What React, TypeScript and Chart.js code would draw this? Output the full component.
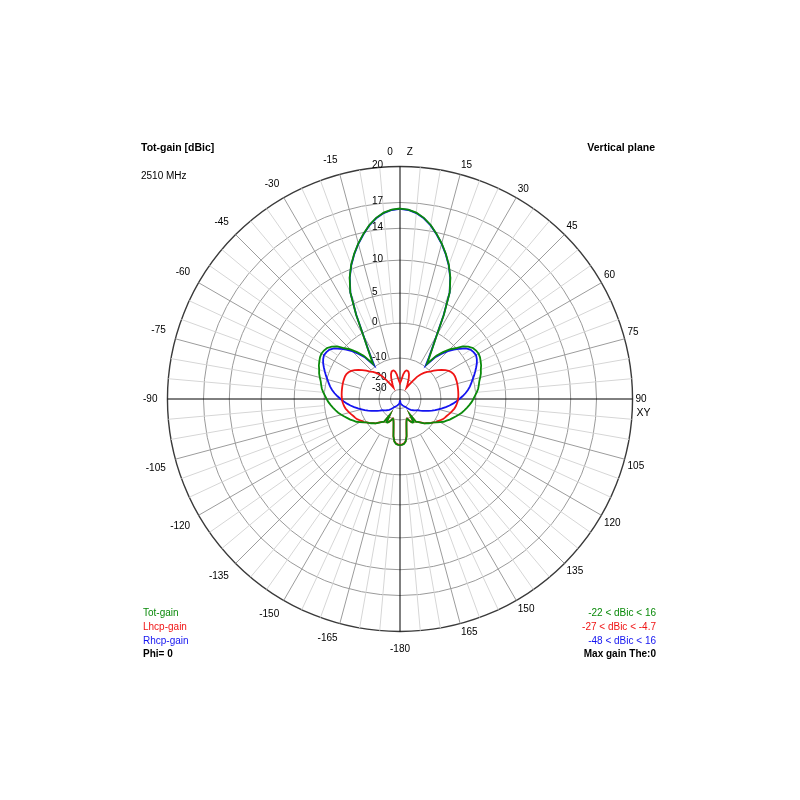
import React, { useEffect, useRef } from 'react';
import { Chart, registerables, RadialLinearScale } from 'chart.js';

const FONT = "'Liberation Sans', Arial, sans-serif";

// ---- data (dBic), angle theta in degrees, clockwise from Z (top) ----
const angles = [
  0, 2.5, 5, 7.5, 10, 12.5, 15, 17.5, 20, 22.5, 25, 27.5, 30, 32.5, 35, 37.5, 40, 42.5, 45, 47.5,
  50, 52.5, 55, 57.5, 60, 62.5, 65, 67.5, 70, 72.5, 75, 77.5, 80, 82.5, 85, 87.5, 90, 92.5, 95, 97.5,
  100, 102.5, 105, 107.5, 110, 112.5, 115, 117.5, 120, 122.5, 125, 127.5, 130, 132.5, 135, 137.5,
  140, 142.5, 145, 147.5, 150, 152.5, 155, 157.5, 160, 162.5, 165, 167.5, 170, 172.5, 175, 177.5,
  -180, -177.5, -175, -172.5, -170, -167.5, -165, -162.5, -160, -157.5, -155, -152.5, -150, -147.5,
  -145, -142.5, -140, -137.5, -135, -132.5, -130, -127.5, -125, -122.5, -120, -117.5, -115, -112.5,
  -110, -107.5, -105, -102.5, -100, -97.5, -95, -92.5, -90, -87.5, -85, -82.5, -80, -77.5, -75, -72.5,
  -70, -67.5, -65, -62.5, -60, -57.5, -55, -52.5, -50, -47.5, -45, -42.5, -40, -37.5, -35, -32.5,
  -30, -27.5, -25, -22.5, -20, -17.5, -15, -12.5, -10, -7.5, -5, -2.5,
];

const totGain = [
  16.3, 16.2, 15.9, 15.4, 14.7, 13.8, 12.8, 11.7, 10.5, 8.9,
  6.8, 3.2, -0.7, -4.4, -7.0, -9.0, -5.5, -3.5, -1.6, -0.2,
  1.0, 1.7, 2.2, 2.4, 2.5, 2.4, 2.2, 2.0, 1.7, 1.5,
  1.2, 0.9, 0.7, 0.5, 0.2, -0.2, -0.7, -1.2, -1.8, -2.4,
  -3.0, -3.6, -4.3, -5.0, -5.7, -6.3, -7.0, -7.6, -8.5, -9.3,
  -10.0, -10.8, -11.6, -12.5, -13.2, -14.3, -15.2, -16.0, -16.5, -22.0,
  -17.0, -17.2, -18.0, -19.0, -20.0, -19.5, -18.0, -15.5, -11.5, -9.4,
  -8.8, -8.6,
  -8.5,
  -8.6, -8.8, -9.4, -11.5, -15.5, -18.0, -19.5, -20.0, -19.0, -18.0,
  -17.2, -17.0, -22.0, -16.5, -16.0, -15.2, -14.3, -13.2, -12.5, -11.6,
  -10.8, -10.0, -9.3, -8.5, -7.6, -7.0, -6.3, -5.7, -5.0, -4.3,
  -3.6, -3.0, -2.4, -1.8, -1.2, -0.7, -0.2, 0.2, 0.5, 0.7,
  0.9, 1.2, 1.5, 1.7, 2.0, 2.2, 2.4, 2.5, 2.4, 2.2,
  1.7, 1.0, -0.2, -1.6, -3.5, -5.5, -9.0, -7.0, -4.4, -0.7,
  3.2, 6.8, 8.9, 10.5, 11.7, 12.8, 13.8, 14.7, 15.4, 15.9,
  16.2,
];

const lhcpGain = [
  -24.5, -23.0, -20.5, -18.0, -16.5, -15.8, -15.8, -16.3, -17.3, -19.0,
  -21.5, -24.5, -27.0, -24.0, -19.5, -16.5, -14.5, -12.8, -11.3, -10.2,
  -9.1, -8.1, -7.2, -6.3, -5.6, -5.1, -4.8, -4.7, -4.7, -4.7,
  -4.75, -4.8, -4.85, -4.9, -4.95, -5.0, -5.1, -5.2, -5.4, -5.6,
  -5.9, -6.3, -6.7, -7.1, -7.5, -7.8, -8.1, -8.6, -9.1, -9.4,
  -10.1, -10.9, -11.7, -12.6, -13.3, -14.4, -15.3, -16.1, -16.6, -22.0,
  -17.1, -17.3, -18.1, -19.1, -20.1, -19.6, -18.1, -15.6, -11.6, -9.5,
  -8.9, -8.7,
  -8.6,
  -8.7, -8.9, -9.5, -11.6, -15.6, -18.1, -19.6, -20.1, -19.1, -18.1,
  -17.3, -17.1, -22.0, -16.6, -16.1, -15.3, -14.4, -13.3, -12.6, -11.7,
  -10.9, -10.1, -9.4, -9.1, -8.6, -8.1, -7.8, -7.5, -7.1, -6.7,
  -6.3, -5.9, -5.6, -5.4, -5.2, -5.1, -5.0, -4.95, -4.9, -4.85,
  -4.8, -4.75, -4.7, -4.7, -4.7, -4.8, -5.1, -5.6, -6.3, -7.2,
  -8.1, -9.1, -10.2, -11.3, -12.8, -14.5, -16.5, -19.5, -24.0, -27.0,
  -24.5, -21.5, -19.0, -17.3, -16.3, -15.8, -15.8, -16.5, -18.0, -20.5,
  -23.0,
];

const rhcpGain = [
  16.25, 16.15, 15.85, 15.35, 14.65, 13.75, 12.75, 11.65, 10.45, 8.85,
  6.75, 3.1, -0.8, -4.6, -7.4, -9.6, -6.2, -4.2, -2.3, -0.8,
  0.4, 1.2, 1.7, 1.9, 2.0, 1.8, 1.5, 1.1, 0.7, 0.3,
  -0.2, -0.8, -1.4, -2.1, -2.9, -3.8, -4.7, -5.6, -6.5, -7.4,
  -8.4, -9.4, -10.6, -12.0, -13.5, -15.0, -16.3, -17.6, -18.8, -20.0,
  -21.0, -22.0, -23.0, -24.0, -25.0, -26.2, -27.5, -28.8, -30.0, -31.2,
  -32.4, -33.5, -34.5, -35.5, -36.5, -37.5, -38.5, -39.5, -40.5, -42.0,
  -44.0, -46.0,
  -48.0,
  -46.0, -44.0, -42.0, -40.5, -39.5, -38.5, -37.5, -36.5, -35.5, -34.5,
  -33.5, -32.4, -31.2, -30.0, -28.8, -27.5, -26.2, -25.0, -24.0, -23.0,
  -22.0, -21.0, -20.0, -18.8, -17.6, -16.3, -15.0, -13.5, -12.0, -10.6,
  -9.4, -8.4, -7.4, -6.5, -5.6, -4.7, -3.8, -2.9, -2.1, -1.4,
  -0.8, -0.2, 0.3, 0.7, 1.1, 1.5, 1.8, 2.0, 1.9, 1.7,
  1.2, 0.4, -0.8, -2.3, -4.2, -6.2, -9.6, -7.4, -4.6, -0.8,
  3.1, 6.75, 8.85, 10.45, 11.65, 12.75, 13.75, 14.65, 15.35, 15.85,
  16.15,
];

const ringTicks = [-30, -20, -10, 0, 5, 10, 14, 17, 20];
const seriesNames = ['Tot-gain', 'Lhcp-gain', 'Rhcp-gain'];
const seriesColors = ['#0a8a0a', '#f01414', '#1414f0'];
const rangeLabels = ['-22 < dBic < 16', '-27 < dBic < -4.7', '-48 < dBic < 16'];
const titleLeft = 'Tot-gain [dBic]';
const subtitleLeft = '2510 MHz';
const titleRight = 'Vertical plane';
const footLeft = 'Phi= 0';
const footRight = 'Max gain The:0';

// ---- non-linear (4nec2 style, log-like) radial gain scale ----
const KNOT_DB = [-50, -30, -20, -10, 0, 5, 10, 14, 17, 20];
const KNOT_FRAC = [0, 0.041, 0.09, 0.176, 0.326, 0.455, 0.597, 0.734, 0.845, 1];

function gainToFraction(v: number) {
  if (v <= KNOT_DB[0]) return 0;
  const last = KNOT_DB.length - 1;
  if (v >= KNOT_DB[last]) return KNOT_FRAC[last];
  for (let i = 1; i <= last; i++) {
    if (v <= KNOT_DB[i]) {
      const t = (v - KNOT_DB[i - 1]) / (KNOT_DB[i] - KNOT_DB[i - 1]);
      return KNOT_FRAC[i - 1] + t * (KNOT_FRAC[i] - KNOT_FRAC[i - 1]);
    }
  }
  return 1;
}
function fractionToGain(f: number) {
  if (f <= 0) return KNOT_DB[0];
  const last = KNOT_FRAC.length - 1;
  if (f >= 1) return KNOT_DB[last];
  for (let i = 1; i <= last; i++) {
    if (f <= KNOT_FRAC[i]) {
      const t = (f - KNOT_FRAC[i - 1]) / (KNOT_FRAC[i] - KNOT_FRAC[i - 1]);
      return KNOT_DB[i - 1] + t * (KNOT_DB[i] - KNOT_DB[i - 1]);
    }
  }
  return KNOT_DB[last];
}

class GainRadialScale extends RadialLinearScale {
  static id = 'gainRadial';

  getDistanceFromCenterForValue(value: any) {
    if (value === null || value === undefined || Number.isNaN(value)) return NaN;
    return (this as any).drawingArea * gainToFraction(value);
  }

  getValueForDistanceFromCenter(distance: number) {
    return fractionToGain(distance / (this as any).drawingArea);
  }

  drawGrid(chartArea: any) {
    super.drawGrid(chartArea);
    const self: any = this;
    const ctx = self.ctx as CanvasRenderingContext2D;
    const labels = self.getLabels();
    const R = self.drawingArea;
    const rMajor = this.getDistanceFromCenterForValue(-10);
    const rMinor = this.getDistanceFromCenterForValue(0);
    const kinds = [
      { test: (a: number) => a % 5 === 0 && a % 15 !== 0, from: rMinor, color: '#d6d6d6' },
      { test: (a: number) => a % 15 === 0 && a % 90 !== 0, from: rMajor, color: '#9c9c9c' },
      { test: (a: number) => a % 90 === 0, from: 0, color: '#000000' },
    ];
    ctx.save();
    ctx.lineWidth = 1;
    kinds.forEach((k) => {
      ctx.strokeStyle = k.color;
      ctx.beginPath();
      for (let i = 0; i < labels.length; i++) {
        const a = Number(labels[i]);
        if (!k.test(a)) continue;
        const p0 = self.getPointPosition(i, k.from);
        const p1 = self.getPointPosition(i, R);
        ctx.moveTo(p0.x, p0.y);
        ctx.lineTo(p1.x, p1.y);
      }
      ctx.stroke();
    });
    ctx.restore();
  }

  drawLabels() {
    const self: any = this;
    const ctx = self.ctx as CanvasRenderingContext2D;
    ctx.save();
    ctx.font = `10px ${FONT}`;
    ctx.fillStyle = '#000';
    ctx.textAlign = 'left';
    ctx.textBaseline = 'middle';
    self.ticks.forEach((t: any) => {
      const r = this.getDistanceFromCenterForValue(t.value);
      ctx.fillText(String(t.value), self.xCenter - 28, self.yCenter - r - 1);
    });
    ctx.restore();
  }
}

Chart.register(...registerables, GainRadialScale);

const textPlugin = {
  id: 'necTexts',
  afterDraw(chart: any) {
    const ctx = chart.ctx as CanvasRenderingContext2D;
    const s = chart.scales.r;
    const cx = s.xCenter;
    const cy = s.yCenter;
    const R = s.drawingArea;
    ctx.save();
    ctx.textBaseline = 'middle';
    // axis name of the horizontal axis
    ctx.fillStyle = '#000';
    ctx.font = `10.5px ${FONT}`;
    ctx.textAlign = 'left';
    ctx.fillText('XY', cx + R + 4, cy + 14);
    // header
    ctx.font = `bold 10.5px ${FONT}`;
    ctx.fillText(titleLeft, 141, 148);
    ctx.textAlign = 'right';
    ctx.fillText(titleRight, 655, 148);
    ctx.font = `10px ${FONT}`;
    ctx.textAlign = 'left';
    ctx.fillText(subtitleLeft, 141, 176);
    // legend
    const ds = chart.data.datasets;
    ds.forEach((d: any, i: number) => {
      ctx.fillStyle = d.borderColor;
      ctx.font = `10px ${FONT}`;
      ctx.textAlign = 'left';
      ctx.fillText(d.label, 143, 613 + i * 14);
      ctx.textAlign = 'right';
      ctx.fillText(rangeLabels[i], 656, 613 + i * 14);
    });
    ctx.fillStyle = '#000';
    ctx.font = `bold 10px ${FONT}`;
    ctx.textAlign = 'left';
    ctx.fillText(footLeft, 143, 654);
    ctx.textAlign = 'right';
    ctx.fillText(footRight, 656, 654);
    ctx.restore();
  },
};

export default function App() {
  const ref = useRef<HTMLCanvasElement | null>(null);
  useEffect(() => {
    if (!ref.current) return;
    const chart = new Chart(ref.current, {
      type: 'radar',
      data: {
        labels: angles,
        datasets: [
          { label: seriesNames[0], data: totGain, borderColor: seriesColors[0] },
          { label: seriesNames[1], data: lhcpGain, borderColor: seriesColors[1] },
          { label: seriesNames[2], data: rhcpGain, borderColor: seriesColors[2] },
        ].map((d) => ({
          ...d,
          backgroundColor: 'transparent',
          fill: false,
          borderWidth: 1.8,
          pointRadius: 0,
          pointHoverRadius: 0,
          tension: 0,
        })),
      },
      options: {
        responsive: false,
        animation: false,
        events: [],
        layout: { padding: { left: 138, right: 148, top: 144, bottom: 142 } },
        plugins: { legend: { display: false }, tooltip: { enabled: false } },
        scales: {
          r: {
            type: 'gainRadial',
            min: -50,
            max: 20,
            afterBuildTicks: (scale: any) => {
              scale.ticks = ringTicks.map((v) => ({ value: v }));
            },
            ticks: { display: false },
            grid: {
              circular: true,
              color: (c: any) => (c.tick && c.tick.value === 20 ? '#3a3a3a' : '#9a9a9a'),
              lineWidth: (c: any) => (c.tick && c.tick.value === 20 ? 1.4 : 1),
            },
            angleLines: { display: false },
            pointLabels: {
              display: true,
              color: '#000',
              font: { family: FONT, size: 10 },
              padding: (c: any) => {
                const a = angles[c.index];
                if (a > 0 && a < 180) return 3;
                if (a === -180) return 12;
                if (a < 0) return 8 + 2 * Math.abs(Math.sin((a * Math.PI) / 180));
                return 8;
              },
              callback: (label: any) => {
                const a = Number(label);
                if (a % 15 !== 0) return '';
                return a === 0 ? '0     Z' : String(a);
              },
            },
          } as any,
        },
      } as any,
      plugins: [textPlugin],
    });
    return () => chart.destroy();
  }, []);
  return (
    <div style={{ position: 'absolute', left: 0, top: 0, width: 800, height: 800, background: '#fff' }}>
      <canvas ref={ref} width={800} height={800} />
    </div>
  );
}
